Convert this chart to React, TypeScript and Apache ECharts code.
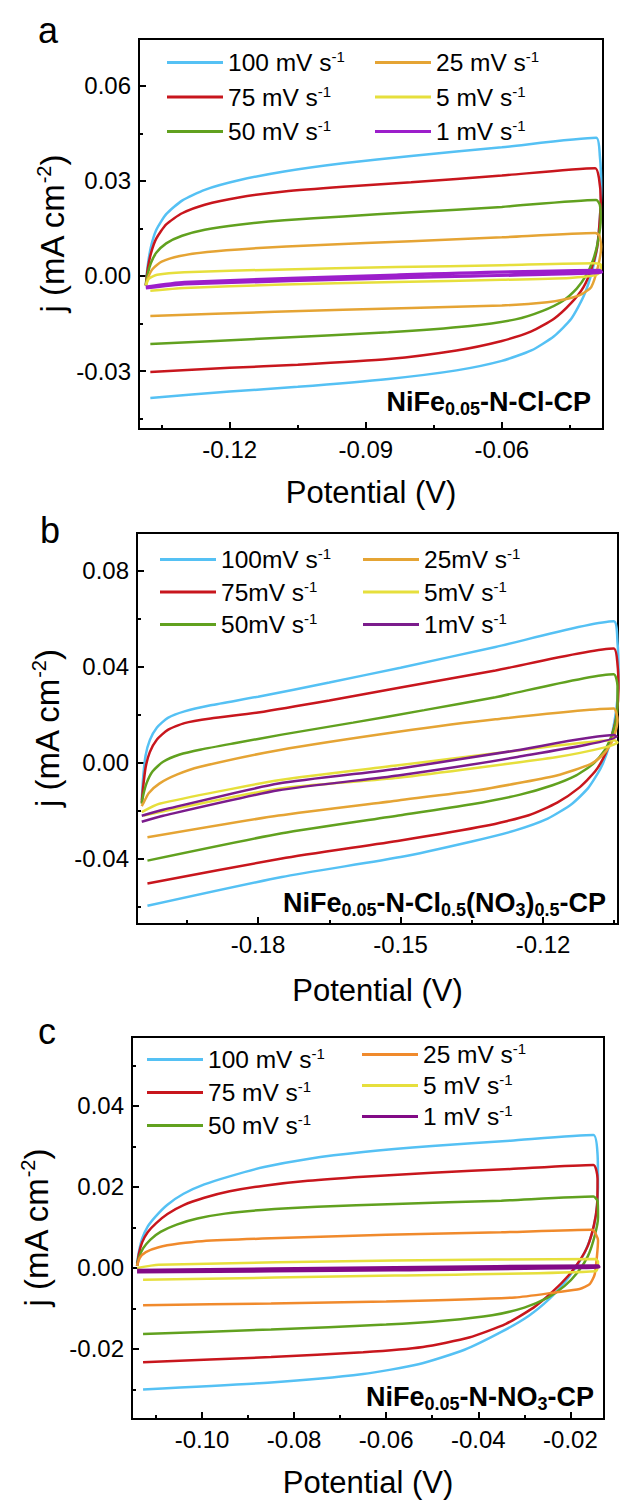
import React, { useEffect, useRef } from "react";
import * as echarts from "echarts";

type Pt = [number, number];

const FONT = '"Liberation Sans", Arial, Helvetica, sans-serif';

// ---------- Panel a: NiFe0.05-N-Cl-CP ----------
const aNames = ["100 mV s-1", "75 mV s-1", "50 mV s-1", "25 mV s-1", "5 mV s-1", "1 mV s-1"];
const aColors = ["#55c1f4", "#c8161d", "#61a11f", "#e5a434", "#e6df3c", "#9c1ecb"];
const a100: Pt[] = [[-0.1385,-0.003],[-0.1381,0.003],[-0.1374,0.009],[-0.1362,0.0145],[-0.134,0.0195],[-0.1305,0.0238],[-0.1255,0.0272],[-0.118,0.0302],[-0.108,0.033],[-0.095,0.0356],[-0.08,0.0379],[-0.06,0.0406],[-0.0392,0.0436],[-0.0384,0.038],[-0.0381,0.028],[-0.0384,0.018],[-0.039,0.009],[-0.0402,0.001],[-0.042,-0.0065],[-0.0447,-0.0135],[-0.0485,-0.019],[-0.0535,-0.0235],[-0.06,-0.0268],[-0.07,-0.0298],[-0.085,-0.0325],[-0.105,-0.035],[-0.12,-0.0365],[-0.1375,-0.0385]];
const a75: Pt[] = [[-0.1385,-0.003],[-0.1381,0.002],[-0.1374,0.007],[-0.1362,0.0118],[-0.134,0.0163],[-0.1305,0.0198],[-0.1255,0.0225],[-0.118,0.0248],[-0.108,0.0267],[-0.095,0.0282],[-0.08,0.0296],[-0.06,0.0317],[-0.0394,0.034],[-0.0386,0.031],[-0.0382,0.024],[-0.0385,0.016],[-0.039,0.009],[-0.0402,0.0025],[-0.042,-0.0035],[-0.0447,-0.0085],[-0.0485,-0.0135],[-0.0535,-0.0175],[-0.06,-0.0205],[-0.07,-0.0235],[-0.085,-0.0262],[-0.105,-0.028],[-0.12,-0.029],[-0.1375,-0.0303]];
const a50: Pt[] = [[-0.1385,-0.003],[-0.1381,0.0005],[-0.1374,0.004],[-0.1362,0.0073],[-0.134,0.0103],[-0.1305,0.0127],[-0.1255,0.0146],[-0.118,0.0162],[-0.108,0.0176],[-0.095,0.0188],[-0.08,0.0201],[-0.06,0.0218],[-0.0392,0.024],[-0.0384,0.0225],[-0.0382,0.018],[-0.0388,0.011],[-0.0399,0.005],[-0.0415,0.0],[-0.0435,-0.004],[-0.0465,-0.0078],[-0.051,-0.011],[-0.057,-0.0137],[-0.067,-0.0158],[-0.085,-0.0178],[-0.11,-0.0196],[-0.1375,-0.0215]];
const a25: Pt[] = [[-0.1385,-0.003],[-0.138,-0.0005],[-0.137,0.0022],[-0.135,0.0045],[-0.131,0.0063],[-0.125,0.0076],[-0.115,0.0087],[-0.1,0.0098],[-0.08,0.011],[-0.06,0.0122],[-0.0394,0.0136],[-0.0385,0.0128],[-0.0381,0.0093],[-0.0388,0.003],[-0.0403,-0.0035],[-0.0425,-0.0058],[-0.0455,-0.0072],[-0.05,-0.0083],[-0.06,-0.0093],[-0.08,-0.0101],[-0.11,-0.0113],[-0.1375,-0.0126]];
const a5: Pt[] = [[-0.1385,-0.003],[-0.1378,-0.0008],[-0.136,0.0004],[-0.13,0.0012],[-0.11,0.002],[-0.0833,0.0028],[-0.06,0.0034],[-0.0394,0.004],[-0.0382,0.0036],[-0.0382,0.0015],[-0.0395,0.0002],[-0.045,-0.0006],[-0.06,-0.0012],[-0.0833,-0.0019],[-0.11,-0.0028],[-0.13,-0.0038],[-0.1375,-0.0047]];
const a1: Pt[] = [[-0.1385,-0.0035],[-0.13,-0.002],[-0.0833,0.0003],[-0.0385,0.0018],[-0.038,0.0012],[-0.0833,-0.0006],[-0.13,-0.0025],[-0.1385,-0.0038]];
const aXMajor = [-0.12, -0.09, -0.06];
const aXMinor = [-0.135, -0.105, -0.075, -0.045];
const aYMajor = [-0.03, 0, 0.03, 0.06];
const aYMinor = [-0.045, -0.015, 0.015, 0.045];

// ---------- Panel b: NiFe0.05-N-Cl0.5(NO3)0.5-CP ----------
const bNames = ["100mV s-1", "75mV s-1", "50mV s-1", "25mV s-1", "5mV s-1", "1mV s-1"];
const bColors = ["#55c1f4", "#c8161d", "#61a11f", "#e5a434", "#e6df3c", "#7b1c8c"];
const b100: Pt[] = [[-0.2045,-0.0156],[-0.2042,-0.006],[-0.2037,0.003],[-0.2028,0.0095],[-0.2013,0.0148],[-0.199,0.0188],[-0.1955,0.0215],[-0.19,0.024],[-0.18,0.0276],[-0.165,0.0335],[-0.15,0.0397],[-0.13,0.0483],[-0.1051,0.059],[-0.1043,0.05],[-0.1041,0.038],[-0.1043,0.027],[-0.1049,0.0178],[-0.106,0.0075],[-0.1078,-0.002],[-0.1105,-0.0105],[-0.114,-0.0172],[-0.119,-0.0232],[-0.126,-0.0282],[-0.135,-0.0327],[-0.15,-0.0392],[-0.175,-0.0475],[-0.2033,-0.0595]];
const b75: Pt[] = [[-0.2045,-0.0165],[-0.2042,-0.01],[-0.2037,-0.002],[-0.2028,0.0045],[-0.2013,0.0098],[-0.199,0.0138],[-0.1955,0.0166],[-0.19,0.0185],[-0.18,0.021],[-0.165,0.026],[-0.15,0.0314],[-0.13,0.0385],[-0.1051,0.0477],[-0.1043,0.041],[-0.1041,0.031],[-0.1045,0.02],[-0.1054,0.012],[-0.1068,0.004],[-0.109,-0.0035],[-0.1125,-0.0105],[-0.117,-0.0165],[-0.123,-0.0218],[-0.132,-0.0262],[-0.15,-0.0323],[-0.175,-0.0398],[-0.2033,-0.0502]];
const b50: Pt[] = [[-0.2045,-0.017],[-0.2042,-0.0135],[-0.2035,-0.0085],[-0.2022,-0.0035],[-0.2,0.0005],[-0.1965,0.0035],[-0.192,0.0056],[-0.185,0.0082],[-0.175,0.0118],[-0.16,0.0168],[-0.145,0.022],[-0.13,0.0274],[-0.1051,0.037],[-0.1043,0.032],[-0.1043,0.024],[-0.1047,0.017],[-0.1056,0.011],[-0.107,0.0053],[-0.1095,-0.0005],[-0.113,-0.0052],[-0.118,-0.0093],[-0.125,-0.0133],[-0.135,-0.0172],[-0.15,-0.0218],[-0.175,-0.0293],[-0.2033,-0.0407]];
const b25: Pt[] = [[-0.2045,-0.018],[-0.2041,-0.0165],[-0.203,-0.0125],[-0.2008,-0.0086],[-0.197,-0.0048],[-0.1924,-0.0017],[-0.1757,0.0053],[-0.1505,0.013],[-0.13,0.0182],[-0.1051,0.0227],[-0.1043,0.018],[-0.1048,0.0125],[-0.1058,0.0075],[-0.1075,0.0032],[-0.11,-0.0005],[-0.1171,-0.0052],[-0.1338,-0.0114],[-0.1505,-0.0156],[-0.1757,-0.0219],[-0.2033,-0.031]];
const b5: Pt[] = [[-0.2045,-0.0205],[-0.2008,-0.017],[-0.1757,-0.0072],[-0.1505,-0.001],[-0.13,0.004],[-0.105,0.0095],[-0.1043,0.0085],[-0.1065,0.0067],[-0.117,0.0025],[-0.1505,-0.0062],[-0.1757,-0.0107],[-0.2041,-0.0219]];
const b1: Pt[] = [[-0.2045,-0.022],[-0.2,-0.0195],[-0.1757,-0.0086],[-0.1505,-0.0024],[-0.1254,0.0053],[-0.105,0.0116],[-0.1045,0.011],[-0.1254,0.0025],[-0.1505,-0.0052],[-0.1757,-0.0114],[-0.2,-0.022],[-0.2045,-0.0245]];
const bXMajor = [-0.18, -0.15, -0.12];
const bXMinor = [-0.195, -0.165, -0.135, -0.105];
const bYMajor = [-0.04, 0, 0.04, 0.08];
const bYMinor = [-0.06, -0.02, 0.02, 0.06];

// ---------- Panel c: NiFe0.05-N-NO3-CP ----------
const cNames = ["100 mV s-1", "75 mV s-1", "50 mV s-1", "25 mV s-1", "5 mV s-1", "1 mV s-1"];
const cColors = ["#55c1f4", "#c8161d", "#61a11f", "#f08a2c", "#e6df3c", "#820a86"];
const c100: Pt[] = [[-0.1141,0.0012],[-0.1137,0.004],[-0.113,0.0072],[-0.1118,0.0102],[-0.11,0.0128],[-0.1075,0.0156],[-0.104,0.0183],[-0.0995,0.0206],[-0.094,0.0226],[-0.0865,0.0249],[-0.077,0.0269],[-0.065,0.0286],[-0.05,0.0301],[-0.033,0.0314],[-0.015,0.0328],[-0.0141,0.028],[-0.014,0.02],[-0.0144,0.0135],[-0.0153,0.0085],[-0.0168,0.004],[-0.0187,0.0004],[-0.0212,-0.0035],[-0.0245,-0.0076],[-0.029,-0.0118],[-0.035,-0.0158],[-0.043,-0.0202],[-0.053,-0.0238],[-0.065,-0.0262],[-0.085,-0.0283],[-0.1128,-0.03]];
const c75: Pt[] = [[-0.1141,0.0005],[-0.1137,0.0035],[-0.113,0.0063],[-0.1118,0.0088],[-0.11,0.011],[-0.1075,0.0133],[-0.104,0.0155],[-0.0995,0.0173],[-0.094,0.0189],[-0.0865,0.0203],[-0.077,0.0215],[-0.065,0.0225],[-0.05,0.0235],[-0.033,0.0244],[-0.015,0.0254],[-0.0141,0.022],[-0.0142,0.0155],[-0.0149,0.0105],[-0.0162,0.0055],[-0.018,0.0018],[-0.0205,-0.002],[-0.0238,-0.0058],[-0.028,-0.0098],[-0.034,-0.0138],[-0.042,-0.0172],[-0.052,-0.0195],[-0.065,-0.0208],[-0.085,-0.022],[-0.1128,-0.0233]];
const c50: Pt[] = [[-0.1141,0.0005],[-0.1137,0.0025],[-0.1128,0.0048],[-0.1112,0.007],[-0.109,0.0089],[-0.1055,0.0107],[-0.101,0.0122],[-0.095,0.0134],[-0.087,0.0143],[-0.075,0.0151],[-0.058,0.0158],[-0.035,0.0166],[-0.015,0.0176],[-0.0141,0.0165],[-0.014,0.0125],[-0.0147,0.008],[-0.0162,0.0029],[-0.0185,-0.0012],[-0.0213,-0.0045],[-0.025,-0.0074],[-0.03,-0.0098],[-0.037,-0.0117],[-0.047,-0.013],[-0.06,-0.014],[-0.085,-0.0152],[-0.1128,-0.0163]];
const c25: Pt[] = [[-0.1141,0.0005],[-0.1135,0.0025],[-0.1122,0.0039],[-0.1094,0.0051],[-0.105,0.006],[-0.1,0.0066],[-0.085,0.0073],[-0.06,0.0082],[-0.035,0.0088],[-0.0153,0.0094],[-0.014,0.0068],[-0.0147,-0.0015],[-0.0158,-0.004],[-0.018,-0.0052],[-0.023,-0.006],[-0.032,-0.0073],[-0.06,-0.0083],[-0.085,-0.0088],[-0.1128,-0.0092]];
const c5: Pt[] = [[-0.1141,0.0],[-0.1094,0.0008],[-0.0581,0.0018],[-0.0145,0.0022],[-0.014,0.0015],[-0.0145,-0.0008],[-0.0581,-0.0019],[-0.1128,-0.0029]];
const c1: Pt[] = [[-0.1141,-0.0006],[-0.0581,0.0001],[-0.014,0.0005],[-0.0138,0.0002],[-0.0581,-0.0005],[-0.1141,-0.001]];
const cXMajor = [-0.1, -0.08, -0.06, -0.04, -0.02];
const cXMinor = [-0.11, -0.09, -0.07, -0.05, -0.03];
const cYMajor = [-0.02, 0, 0.02, 0.04];
const cYMinor = [-0.03, -0.01, 0.01, 0.03, 0.05];

interface Panel {
  letter: string;
  label: string;
  names: string[];
  colors: string[];
  curves: Pt[][];
  xRange: [number, number];
  yRange: [number, number];
  xMajor: number[];
  xMinor: number[];
  yMajor: number[];
  yMinor: number[];
  grid: { left: number; top: number; width: number; height: number };
  legendCols: { left: number; top: number; gap: number }[];
  letterPos: [number, number];
  labelPos: [number, number];
  yTitleX: number;
  xTitleY: number;
}

const panels: Panel[] = [
  {
    letter: "a",
    label: "NiFe{sub|0.05}-N-Cl-CP",
    names: aNames,
    colors: aColors,
    curves: [a100, a75, a50, a25, a5, a1],
    xRange: [-0.14, -0.0377],
    yRange: [-0.0483, 0.0748],
    xMajor: aXMajor, xMinor: aXMinor, yMajor: aYMajor, yMinor: aYMinor,
    grid: { left: 139, top: 39, width: 464, height: 390 },
    legendCols: [{ left: 167, top: 49, gap: 7.5 }, { left: 375, top: 49, gap: 7.5 }],
    letterPos: [38, 30],
    labelPos: [591, 402],
    yTitleX: 52,
    xTitleY: 492,
  },
  {
    letter: "b",
    label: "NiFe{sub|0.05}-N-Cl{sub|0.5}(NO{sub|3}){sub|0.5}-CP",
    names: bNames,
    colors: bColors,
    curves: [b100, b75, b50, b25, b5, b1],
    xRange: [-0.2055, -0.1042],
    yRange: [-0.0671, 0.0958],
    xMajor: bXMajor, xMinor: bXMinor, yMajor: bYMajor, yMinor: bYMinor,
    grid: { left: 137, top: 533, width: 481, height: 391 },
    legendCols: [{ left: 160, top: 546, gap: 5.5 }, { left: 363, top: 546, gap: 5.5 }],
    letterPos: [40, 530],
    labelPos: [606, 903],
    yTitleX: 47,
    xTitleY: 990,
  },
  {
    letter: "c",
    label: "NiFe{sub|0.05}-N-NO{sub|3}-CP",
    names: cNames,
    colors: cColors,
    curves: [c100, c75, c50, c25, c5, c1],
    xRange: [-0.1152, -0.0127],
    yRange: [-0.0373, 0.057],
    xMajor: cXMajor, xMinor: cXMinor, yMajor: cYMajor, yMinor: cYMinor,
    grid: { left: 132, top: 1037, width: 472, height: 382 },
    legendCols: [{ left: 147, top: 1046, gap: 6 }, { left: 362, top: 1041, gap: 4 }],
    letterPos: [38, 1031],
    labelPos: [594, 1397],
    yTitleX: 36,
    xTitleY: 1482,
  },
];

const tickStyle = { color: "#000", width: 2 };
const fmt = (v: number) => v.toFixed(2);

function buildOption() {
  const grid: any[] = [];
  const xAxis: any[] = [];
  const yAxis: any[] = [];
  const series: any[] = [];
  const legend: any[] = [];
  const graphic: any[] = [];

  panels.forEach((p, pi) => {
    grid.push({
      ...p.grid,
      show: true,
      borderColor: "#000",
      borderWidth: 2,
      backgroundColor: "transparent",
      containLabel: false,
      outerBoundsMode: "none",
    });

    const axisBase = (kind: "x" | "y") => ({
      type: "value",
      gridIndex: pi,
      min: kind === "x" ? p.xRange[0] : p.yRange[0],
      max: kind === "x" ? p.xRange[1] : p.yRange[1],
      position: kind === "x" ? "bottom" : "left",
      axisLine: { show: false, onZero: false },
      splitLine: { show: false },
    });

    // major ticks with labels
    xAxis.push({
      ...axisBase("x"),
      axisTick: { show: true, inside: true, length: 7, lineStyle: tickStyle, customValues: p.xMajor },
      axisLabel: {
        show: true, customValues: p.xMajor, formatter: fmt,
        fontFamily: FONT, fontSize: 24, color: "#000", margin: 8,
      },
    });
    // minor ticks
    xAxis.push({
      ...axisBase("x"),
      axisTick: { show: true, inside: true, length: 4, lineStyle: tickStyle, customValues: p.xMinor },
      axisLabel: { show: false },
    });
    yAxis.push({
      ...axisBase("y"),
      axisTick: { show: true, inside: true, length: 7, lineStyle: tickStyle, customValues: p.yMajor },
      axisLabel: {
        show: true, customValues: p.yMajor, formatter: fmt,
        fontFamily: FONT, fontSize: 24, color: "#000", margin: 8,
      },
    });
    yAxis.push({
      ...axisBase("y"),
      axisTick: { show: true, inside: true, length: 4, lineStyle: tickStyle, customValues: p.yMinor },
      axisLabel: { show: false },
    });

    p.curves.forEach((data, ci) => {
      const color = p.colors[ci];
      series.push({
        type: "line",
        name: p.names[ci],
        xAxisIndex: pi * 2,
        yAxisIndex: pi * 2,
        data,
        color,
        showSymbol: false,
        symbol: "none",
        smooth: 0.2,
        silent: true,
        lineStyle: { width: ci === 5 && pi !== 1 ? 3.2 : 2.5, color },
        itemStyle: { color },
      });
    });

    // two legend columns: 3 rates each
    p.legendCols.forEach((col, k) => {
      const idx = [k * 3, k * 3 + 1, k * 3 + 2];
      legend.push({
        orient: "vertical",
        left: col.left,
        top: col.top,
        padding: 0,
        itemGap: col.gap,
        itemWidth: 56,
        itemHeight: 3,
        icon: "rect",
        selectedMode: false,
        data: idx.map((i) => ({ name: p.names[i], itemStyle: { color: p.colors[i] } })),
        formatter: (n: string) => n.replace(/-1$/, "{sup|-1}"),
        textStyle: {
          fontFamily: FONT, fontSize: 24.5, color: "#000", lineHeight: 27,
          rich: { sup: { fontFamily: FONT, fontSize: 15, lineHeight: 15, verticalAlign: "top", color: "#000" } },
        },
      });
    });

    const cx = p.grid.left + p.grid.width / 2;
    const cy = p.grid.top + p.grid.height / 2;

    graphic.push({
      type: "text",
      x: p.letterPos[0],
      y: p.letterPos[1],
      style: { text: p.letter, fontFamily: FONT, fontSize: 36, fill: "#000", align: "left", verticalAlign: "middle" },
    });
    graphic.push({
      type: "text",
      x: p.labelPos[0],
      y: p.labelPos[1],
      style: {
        text: p.label, fontFamily: FONT, fontSize: 27, fontWeight: "bold", fill: "#000",
        align: "right", verticalAlign: "middle", lineHeight: 32,
        rich: { sub: { fontFamily: FONT, fontSize: 18, fontWeight: "bold", fill: "#000", lineHeight: 18, verticalAlign: "bottom" } },
      },
    });
    graphic.push({
      type: "text",
      x: cx,
      y: p.xTitleY,
      style: { text: "Potential (V)", fontFamily: FONT, fontSize: 31, fill: "#000", align: "center", verticalAlign: "middle" },
    });
    graphic.push({
      type: "text",
      x: p.yTitleX,
      y: cy,
      rotation: Math.PI / 2,
      style: {
        text: "j (mA cm{sup|-2})", fontFamily: FONT, fontSize: 33, fill: "#000",
        align: "center", verticalAlign: "middle", lineHeight: 37,
        rich: { sup: { fontFamily: FONT, fontSize: 20, fill: "#000", lineHeight: 20, verticalAlign: "top" } },
      },
    });
  });

  return { animation: false, backgroundColor: "#fff", grid, xAxis, yAxis, series, legend, graphic };
}

export default function App() {
  const ref = useRef<HTMLDivElement>(null);
  useEffect(() => {
    if (!ref.current) return;
    const chart = echarts.init(ref.current, undefined, { renderer: "svg" });
    chart.setOption(buildOption() as any);
    return () => chart.dispose();
  }, []);
  return (
    <div
      ref={ref}
      style={{ position: "absolute", left: 0, top: 0, width: 621, height: 1501, background: "#fff" }}
    />
  );
}
